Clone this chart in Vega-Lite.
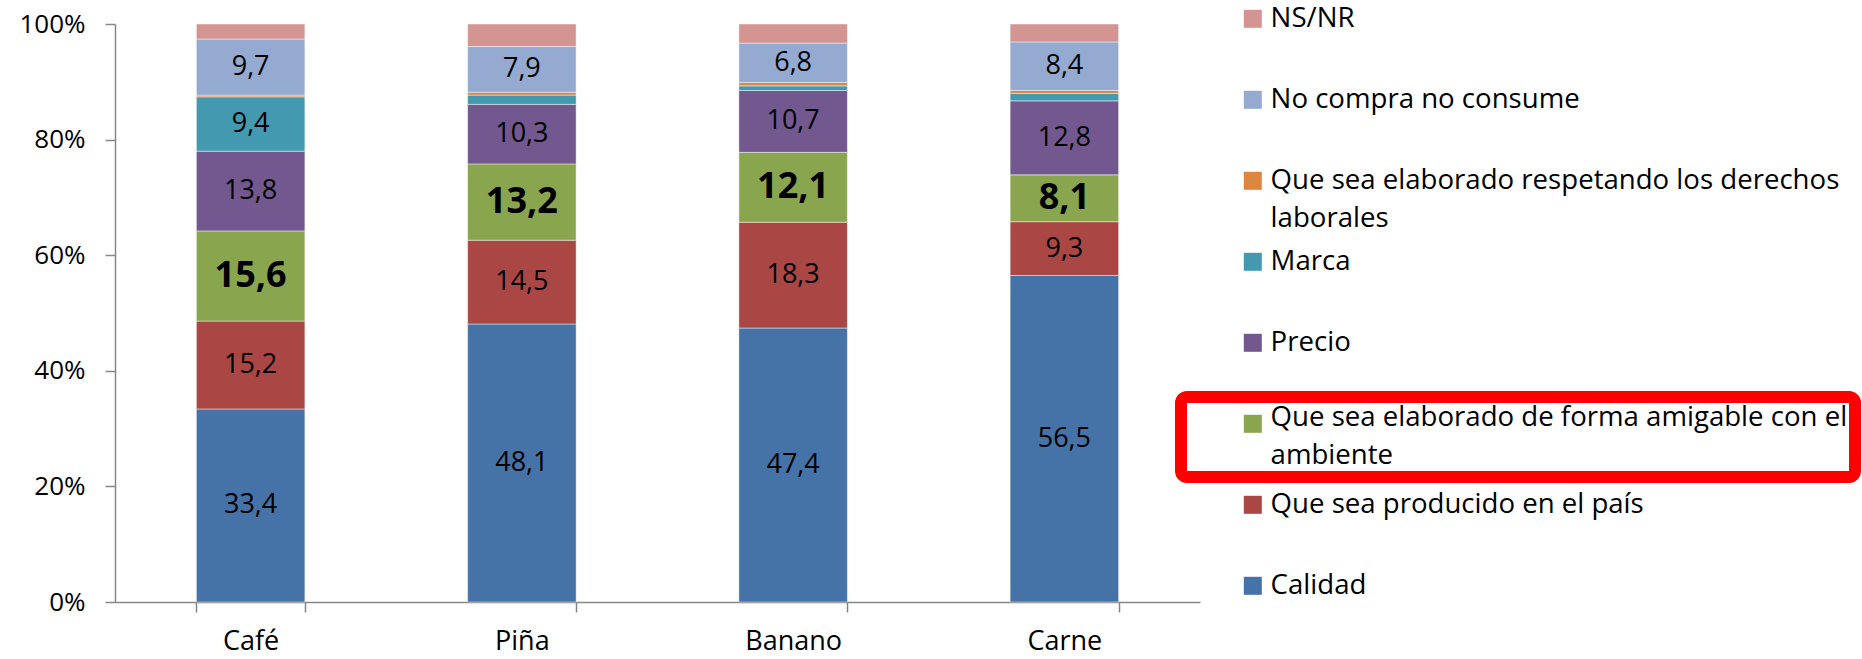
{
  "$schema": "https://vega.github.io/schema/vega-lite/v6.json",
  "autosize": {"type": "none"},
  "width": 1085,
  "height": 578,
  "padding": {"left": 115, "top": 24, "right": 662, "bottom": 57},
  "background": "white",
  "config": {
    "locale": {
      "number": {"decimal": ",", "thousands": ".", "grouping": [3], "currency": ["", " €"]}
    },
    "view": {"stroke": null},
    "font": "Open Sans",
    "style": {"guide-label": {"lineHeight": 38}},
    "legend": {"strokeWidth": 12},
    "axis": {
      "domainColor": "#868686",
      "domainWidth": 1.5,
      "tickColor": "#868686",
      "tickWidth": 1.5,
      "tickSize": 10,
      "labelColor": "#000000",
      "labelFont": "Open Sans",
      "grid": false,
      "title": null
    }
  },
  "datasets": {
    "series": [
      {"criterio": "Calidad", "orden": 1},
      {"criterio": "Que sea producido en el país", "orden": 2},
      {"criterio": "Que sea elaborado de forma amigable con el ambiente", "orden": 3},
      {"criterio": "Precio", "orden": 4},
      {"criterio": "Marca", "orden": 5},
      {"criterio": "Que sea elaborado respetando los derechos laborales", "orden": 6},
      {"criterio": "No compra no consume", "orden": 7},
      {"criterio": "NS/NR", "orden": 8}
    ]
  },
  "data": {
    "values": [
      {"producto": "Café", "criterio": "Calidad", "valor": 33.4},
      {"producto": "Café", "criterio": "Que sea producido en el país", "valor": 15.2},
      {"producto": "Café", "criterio": "Que sea elaborado de forma amigable con el ambiente", "valor": 15.6},
      {"producto": "Café", "criterio": "Precio", "valor": 13.8},
      {"producto": "Café", "criterio": "Marca", "valor": 9.4},
      {"producto": "Café", "criterio": "Que sea elaborado respetando los derechos laborales", "valor": 0.3},
      {"producto": "Café", "criterio": "No compra no consume", "valor": 9.7},
      {"producto": "Café", "criterio": "NS/NR", "valor": 2.6},
      {"producto": "Piña", "criterio": "Calidad", "valor": 48.1},
      {"producto": "Piña", "criterio": "Que sea producido en el país", "valor": 14.5},
      {"producto": "Piña", "criterio": "Que sea elaborado de forma amigable con el ambiente", "valor": 13.2},
      {"producto": "Piña", "criterio": "Precio", "valor": 10.3},
      {"producto": "Piña", "criterio": "Marca", "valor": 1.6},
      {"producto": "Piña", "criterio": "Que sea elaborado respetando los derechos laborales", "valor": 0.5},
      {"producto": "Piña", "criterio": "No compra no consume", "valor": 7.9},
      {"producto": "Piña", "criterio": "NS/NR", "valor": 3.9},
      {"producto": "Banano", "criterio": "Calidad", "valor": 47.4},
      {"producto": "Banano", "criterio": "Que sea producido en el país", "valor": 18.3},
      {"producto": "Banano", "criterio": "Que sea elaborado de forma amigable con el ambiente", "valor": 12.1},
      {"producto": "Banano", "criterio": "Precio", "valor": 10.7},
      {"producto": "Banano", "criterio": "Marca", "valor": 0.8},
      {"producto": "Banano", "criterio": "Que sea elaborado respetando los derechos laborales", "valor": 0.6},
      {"producto": "Banano", "criterio": "No compra no consume", "valor": 6.8},
      {"producto": "Banano", "criterio": "NS/NR", "valor": 3.3},
      {"producto": "Carne", "criterio": "Calidad", "valor": 56.5},
      {"producto": "Carne", "criterio": "Que sea producido en el país", "valor": 9.3},
      {"producto": "Carne", "criterio": "Que sea elaborado de forma amigable con el ambiente", "valor": 8.1},
      {"producto": "Carne", "criterio": "Precio", "valor": 12.8},
      {"producto": "Carne", "criterio": "Marca", "valor": 1.3},
      {"producto": "Carne", "criterio": "Que sea elaborado respetando los derechos laborales", "valor": 0.5},
      {"producto": "Carne", "criterio": "No compra no consume", "valor": 8.4},
      {"producto": "Carne", "criterio": "NS/NR", "valor": 3.1}
    ]
  },
  "transform": [
    {
      "lookup": "criterio",
      "from": {"data": {"name": "series"}, "key": "criterio", "fields": ["orden"]}
    }
  ],
  "encoding": {
    "x": {
      "field": "producto",
      "type": "nominal",
      "sort": ["Café", "Piña", "Banano", "Carne"],
      "scale": {"paddingInner": 0.6, "paddingOuter": 0.3},
      "axis": {
        "labelAngle": 0,
        "labelFontSize": 27,
        "labelPadding": 16,
        "tickBand": "extent"
      }
    },
    "order": {"field": "orden", "type": "quantitative", "sort": "ascending"}
  },
  "layer": [
    {
      "mark": {"type": "bar", "stroke": "#ffffff", "strokeWidth": 1, "strokeOpacity": 0.45},
      "encoding": {
        "y": {
          "field": "valor",
          "type": "quantitative",
          "stack": "normalize",
          "scale": {"domain": [0, 1]},
          "axis": {
            "format": ".0%",
            "values": [0, 0.2, 0.4, 0.6, 0.8, 1],
            "labelFontSize": 26,
            "labelPadding": 20
          }
        },
        "color": {
          "field": "criterio",
          "type": "nominal",
          "scale": {
            "domain": [
              "NS/NR",
              "No compra no consume",
              "Que sea elaborado respetando los derechos laborales",
              "Marca",
              "Precio",
              "Que sea elaborado de forma amigable con el ambiente",
              "Que sea producido en el país",
              "Calidad"
            ],
            "range": ["#D39492", "#94AAD0", "#DE8540", "#4299B0", "#72588F", "#89A54E", "#AA4744", "#4572A7"]
          },
          "legend": {
            "title": null,
            "orient": "none",
            "legendX": 1067,
            "legendY": -19,
            "padding": 0,
            "symbolType": "square",
            "symbolSize": 324,
            "symbolStrokeWidth": 0,
            "symbolOffset": 57,
            "labelFont": "Open Sans",
            "labelFontSize": 27.6,
            "labelColor": "#000000",
            "labelOffset": 4,
            "labelLimit": 0,
            "labelBaseline": "middle",
            "rowPadding": 14,
            "gridAlign": "all",
            "labelExpr": "datum.label == 'Que sea elaborado respetando los derechos laborales' ? ['Que sea elaborado respetando los derechos', 'laborales'] : datum.label == 'Que sea elaborado de forma amigable con el ambiente' ? ['\u00a0', ''] : [datum.label, '']"
          }
        }
      }
    },
    {
      "transform": [
        {"filter": "datum.criterio == 'Que sea elaborado de forma amigable con el ambiente'"}
      ],
      "mark": {"type": "point", "opacity": 0, "filled": true},
      "encoding": {
        "y": {"field": "valor", "type": "quantitative", "stack": "normalize"},
        "shape": {
          "field": "criterio",
          "type": "nominal",
          "scale": {"range": ["square"]},
          "legend": {
            "title": null,
            "orient": "none",
            "legendX": 1066,
            "legendY": 373,
            "padding": 7,
            "cornerRadius": 6,
            "strokeColor": "#FF0000",
            "symbolType": "square",
            "symbolSize": 324,
            "symbolOpacity": 0,
            "symbolStrokeWidth": 0,
            "symbolOffset": 51,
            "labelFont": "Open Sans",
            "labelFontSize": 27.6,
            "labelColor": "#000000",
            "labelOffset": 4,
            "labelLimit": 0,
            "labelBaseline": "middle",
            "labelExpr": "['Que sea elaborado de forma amigable con el\u00a0\u00a0\u00a0\u00a0\u00a0\u00a0\u00a0\u00a0', 'ambiente']"
          }
        }
      }
    },
    {
      "mark": {"type": "text", "fontSize": 27, "color": "#000000", "font": "Open Sans"},
      "encoding": {
        "y": {"field": "valor", "type": "quantitative", "stack": "normalize", "bandPosition": 0.5},
        "text": {"field": "valor", "type": "quantitative", "format": ".1f"},
        "opacity": {
          "condition": {
            "test": "datum.valor < 5 || datum.criterio == 'Que sea elaborado de forma amigable con el ambiente'",
            "value": 0
          },
          "value": 1
        }
      }
    },
    {
      "mark": {"type": "text", "fontSize": 36, "fontWeight": "bold", "color": "#000000", "font": "Open Sans"},
      "encoding": {
        "y": {"field": "valor", "type": "quantitative", "stack": "normalize", "bandPosition": 0.5},
        "text": {"field": "valor", "type": "quantitative", "format": ".1f"},
        "opacity": {
          "condition": {
            "test": "datum.criterio == 'Que sea elaborado de forma amigable con el ambiente'",
            "value": 1
          },
          "value": 0
        }
      }
    }
  ]
}
